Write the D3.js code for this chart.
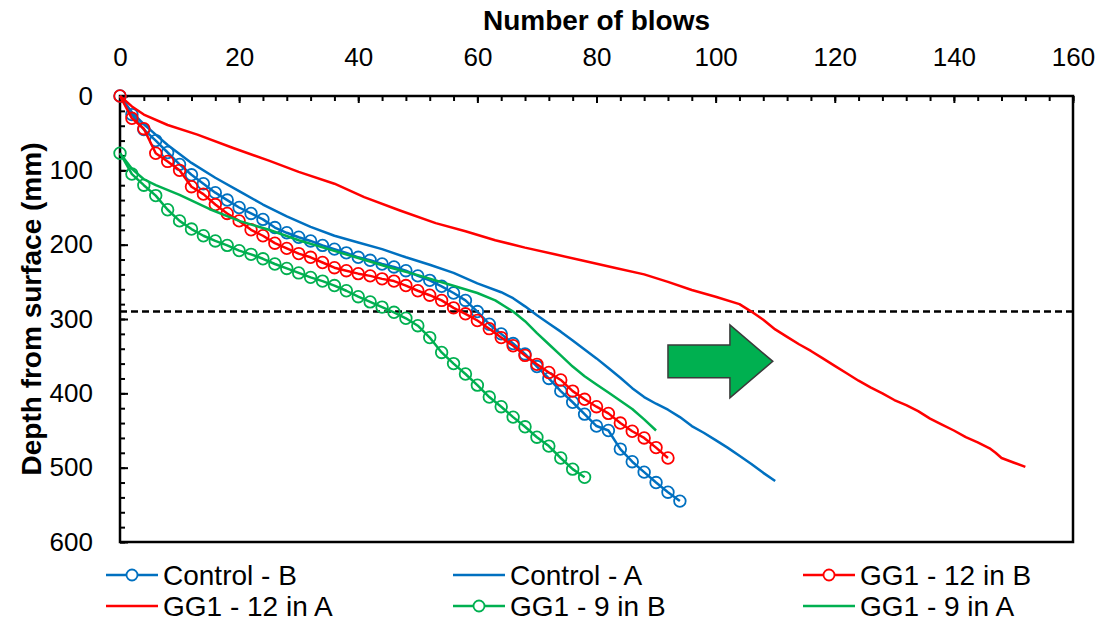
<!DOCTYPE html>
<html>
<head>
<meta charset="utf-8">
<script src="https://cdn.jsdelivr.net/npm/d3@7"></script>
<style>
  body { margin: 0; background: #fff; }
  text { font-family: "Liberation Sans", Arial, sans-serif; fill: #000; }
</style>
</head>
<body>
<div id="chart"></div>
<script>
// series: [blows, depth mm]
const controlB = [[0,0],[2,25],[4,45],[6,60],[8,76],[10,92],[12,106],[14,118],[16,130],[18,140],[20,150],[22,158],[24,166],[26,177],[28,184],[30,190],[32,195],[34,201],[36,206],[38,211],[40,217],[42,221],[44,226],[46,230],[48,235],[50,242],[52,248],[54,256],[56,265],[58,275],[60,290],[62,307],[64,320],[66,333],[68,347],[70,364],[72,380],[74,397],[76,412],[78,428],[80,444],[82,450],[84,475],[86,492],[88,506],[90,520],[92,533],[94,545]];
const controlA = [[0,0],[2,22],[4,38],[6,52],[8,66],[12,90],[16,110],[20,128],[24,146],[28,162],[32,176],[36,188],[40,197],[44,206],[48,217],[52,227],[56,238],[60,252],[64,264],[66,272],[68,283],[70,295],[72,306],[74,317],[76,329],[78,341],[80,353],[82,366],[84,379],[86,393],[88,405],[90,414],[92,422],[94,432],[96,444],[98,453],[100,463],[102,473],[104,484],[106,495],[108,507],[110,518]];
const gg12B = [[0,0],[2,30],[4,44],[6,77],[8,88],[10,100],[12,122],[14,132],[16,146],[18,158],[20,168],[22,180],[24,188],[26,198],[28,205],[30,212],[32,217],[34,224],[36,231],[38,235],[40,239],[42,242],[44,246],[46,249],[48,255],[50,262],[52,268],[54,275],[56,285],[58,293],[60,302],[62,313],[64,325],[66,336],[68,349],[70,361],[72,372],[74,382],[76,397],[78,408],[80,418],[82,427],[84,440],[86,451],[88,460],[90,473],[92,487]];
const gg12A = [[0,0],[2,14],[4,25],[8,39],[13,52],[19,70],[25,87],[30,102],[36,118],[41,136],[47,154],[53,171],[58,182],[63,194],[68,204],[73,213],[78,222],[83,231],[88,240],[92,250],[96,261],[100,270],[104,280],[106,290],[108,301],[110,314],[112,324],[114,334],[116,343],[118,353],[120,363],[122,373],[124,383],[126,392],[128,400],[130,409],[132,416],[134,424],[136,434],[138,442],[140,450],[142,459],[144,466],[146,474],[147,480],[148,487],[150,493],[152,499]];
const gg9B = [[0,77],[2,105],[4,120],[6,134],[8,153],[10,168],[12,179],[14,188],[16,195],[18,201],[20,208],[22,213],[24,219],[26,226],[28,232],[30,238],[32,244],[34,249],[36,255],[38,262],[40,270],[42,277],[44,284],[46,291],[48,299],[50,309],[52,325],[54,345],[56,360],[58,374],[60,389],[62,405],[64,418],[66,432],[68,445],[70,459],[72,471],[74,487],[76,502],[78,513]];
const gg9A = [[0,77],[2,98],[4,112],[6,120],[10,133],[15,152],[20,168],[25,180],[30,194],[35,206],[40,218],[45,230],[50,241],[55,253],[60,265],[63,275],[66,290],[68,303],[70,319],[72,334],[74,349],[76,364],[78,377],[80,388],[82,399],[84,410],[86,421],[88,435],[90,450]];

const seriesNames = ["Control - B", "Control - A", "GG1 - 12 in B", "GG1 - 12 in A", "GG1 - 9 in B", "GG1 - 9 in A"];
const seriesData = [controlB, controlA, gg12B, gg12A, gg9B, gg9A];
const seriesColors = ["#0070C0", "#0070C0", "#FF0000", "#FF0000", "#00B050", "#00B050"];
const seriesMarkers = [true, false, true, false, true, false];

const xTicks = [0, 20, 40, 60, 80, 100, 120, 140, 160];
const yTicks = [0, 100, 200, 300, 400, 500, 600];
const refDepth = 290;
// block arrow outline, in blows / mm
const arrowShape = [[92,335],[102.4,335],[102.4,308],[109.6,357],[102.4,406],[102.4,379],[92,379]];

const width = 1104, height = 625;
const x = d3.scaleLinear().domain([0, 160]).range([120, 1073]);
const y = d3.scaleLinear().domain([0, 600]).range([96, 542]);

const svg = d3.select("#chart").append("svg")
  .attr("width", width)
  .attr("height", height);

// AXES

const xMinor = svg.append("g")
  .attr("transform", `translate(0,${y(0)})`)
  .call(d3.axisTop(x).tickValues(d3.range(0, 161, 4)).tickSize(-5).tickFormat(""));
const xMajor = svg.append("g")
  .attr("transform", `translate(0,${y(0)})`)
  .call(d3.axisTop(x).tickValues(xTicks).tickSize(-7).tickPadding(30));
const yMinor = svg.append("g")
  .attr("transform", `translate(${x(0)},0)`)
  .call(d3.axisLeft(y).tickValues(d3.range(0, 601, 20)).tickSize(-5).tickFormat(""));
const yMajor = svg.append("g")
  .attr("transform", `translate(${x(0)},0)`)
  .call(d3.axisLeft(y).tickValues(yTicks).tickSize(-8).tickPadding(27));

[xMinor, xMajor, yMinor, yMajor].forEach(g => {
  g.select(".domain").remove();
  g.selectAll("line").attr("stroke", "#000").attr("stroke-width", 2);
  g.selectAll("text").attr("font-size", 26).attr("font-family", "Liberation Sans, Arial, sans-serif").attr("fill", "#222");
});

svg.append("rect")
  .attr("x", x(0)).attr("y", y(0))
  .attr("width", x(160) - x(0)).attr("height", y(600) - y(0))
  .attr("fill", "none").attr("stroke", "#000").attr("stroke-width", 2.5);

svg.append("text")
  .attr("x", (x(0) + x(160)) / 2).attr("y", 30)
  .attr("text-anchor", "middle")
  .attr("font-size", 28).attr("font-weight", "bold")
  .text("Number of blows");

svg.append("text")
  .attr("transform", `translate(41,${(y(0) + y(600)) / 2 - 10}) rotate(-90)`)
  .attr("text-anchor", "middle")
  .attr("font-size", 28).attr("font-weight", "bold")
  .text("Depth from surface (mm)");

// REFERENCE LINE

svg.append("line")
  .attr("x1", x(0)).attr("x2", x(160))
  .attr("y1", y(refDepth)).attr("y2", y(refDepth))
  .attr("stroke", "#000").attr("stroke-width", 2.5)
  .attr("stroke-dasharray", "7,4");

// SERIES

const line = d3.line().x(d => x(d[0])).y(d => y(d[1]));

seriesData.forEach((data, i) => {
  const g = svg.append("g");
  g.append("path")
    .datum(data)
    .attr("d", line)
    .attr("fill", "none")
    .attr("stroke", seriesColors[i])
    .attr("stroke-width", 2.5)
    .attr("stroke-linejoin", "round");
  if (seriesMarkers[i]) {
    g.selectAll("circle")
      .data(data)
      .enter()
      .append("circle")
      .attr("cx", d => x(d[0]))
      .attr("cy", d => y(d[1]))
      .attr("r", 5.8)
      .attr("fill", "none")
      .attr("stroke", seriesColors[i])
      .attr("stroke-width", 1.8);
  }
});

// ARROW

svg.append("polygon")
  .attr("points", arrowShape.map(d => [x(d[0]), y(d[1])].join(",")).join(" "))
  .attr("fill", "#00B050")
  .attr("stroke", "#3a3a3a")
  .attr("stroke-width", 1.5);

// LEGEND

const legendCols = [106, 453, 803];
const legendRows = [575, 606];

seriesNames.forEach((name, i) => {
  const lx = legendCols[i % 3];
  const ly = legendRows[Math.floor(i / 3)];
  const g = svg.append("g").attr("transform", `translate(${lx},${ly})`);
  g.append("line")
    .attr("x1", 0).attr("x2", 52)
    .attr("stroke", seriesColors[i]).attr("stroke-width", 2.5);
  if (seriesMarkers[i]) {
    g.append("circle")
      .attr("cx", 26).attr("r", 5.5)
      .attr("fill", "#fff")
      .attr("stroke", seriesColors[i]).attr("stroke-width", 1.8);
  }
  g.append("text")
    .attr("x", 57).attr("dy", "0.35em")
    .attr("font-size", 28)
    .attr("fill", "#222")
    .text(name);
});
</script>
</body>
</html>
